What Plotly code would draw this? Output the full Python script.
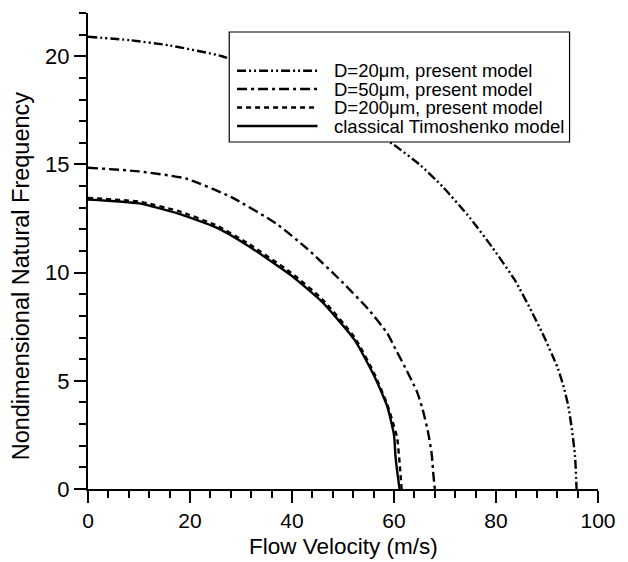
import plotly.graph_objects as go

# ---- data ----
u_d20 = [0, 8.3, 16, 26.3, 35, 45, 52, 60, 65, 69.6, 75, 79.2, 83.7, 87, 89.5, 91, 92.1, 93.3, 94.2, 94.9, 95.5, 95.8]
w_d20 = [20.9, 20.74, 20.5, 20.0, 19.2, 18.1, 17.1, 15.9, 15.0, 13.96, 12.5, 11.19, 9.65, 8.2, 7.0, 6.2, 5.6, 4.7, 3.8, 2.72, 1.5, 0]

u_d50 = [0, 10, 19.2, 28, 36.9, 43, 49.7, 55, 58.7, 60, 62, 64.5, 65.6, 66.7, 67.4, 67.7, 68]
w_d50 = [14.85, 14.68, 14.35, 13.5, 12.27, 11.1, 9.6, 8.3, 7.19, 6.6, 5.7, 4.5, 3.7, 2.6, 1.6, 0.72, 0]

u_d200 = [0, 10, 17.7, 25, 31.2, 39.8, 45.9, 52.3, 56.2, 58.7, 60.0, 60.6, 61.1, 61.5]
w_d200 = [13.45, 13.28, 12.85, 12.2, 11.38, 10.0, 8.78, 7.0, 5.3, 3.9, 2.9, 2.4, 1.2, 0]

u_cl = [0, 10, 17.7, 25, 31.2, 39.8, 45.9, 52.3, 56.2, 58.7, 60.0, 60.3, 60.8, 61.1]
w_cl = [13.38, 13.2, 12.73, 12.1, 11.27, 9.88, 8.65, 6.88, 5.19, 3.8, 2.5, 1.5, 0.5, 0]

names = ["D=20μm, present model", "D=50μm, present model",
         "D=200μm, present model", "classical Timoshenko model"]
dashes = ["9px,3px,2px,3px,2px,3px", "10px,4px,3px,4px", "5px,4px", "solid"]

x_ticks = [0, 20, 40, 60, 80, 100]
y_ticks = [0, 5, 10, 15, 20]

fig = go.Figure()
series = [(u_d20, w_d20), (u_d50, w_d50), (u_d200, w_d200), (u_cl, w_cl)]
for (u, w), nm, d in zip(series, names, dashes):
    fig.add_trace(go.Scatter(x=u, y=w, mode="lines", name=nm,
                             line=dict(color="black", width=2.4, dash=d,
                                       shape="spline", smoothing=0.5),
                             showlegend=False, hoverinfo="skip"))

FONT = "Liberation Sans, Arial, sans-serif"

# plot area in pixels: x 88..608, y 13..489
L, R, T, B = 88, 20, 13, 73
W, H = 628, 562
pw, ph = W - L - R, H - T - B

def px(xp):
    return (xp - L) / pw

def py(yp):
    return (H - B - yp) / ph

shapes = []
annotations = []
# custom legend box
shapes.append(dict(type="rect", xref="paper", yref="paper",
                   x0=px(232), x1=px(579), y0=py(142), y1=py(32),
                   line=dict(color="black", width=1.2), fillcolor="white",
                   layer="above"))
rows = [70.7, 89, 107.5, 126]
for r, nm, d in zip(rows, names, dashes):
    shapes.append(dict(type="line", xref="paper", yref="paper",
                       x0=px(240), x1=px(322), y0=py(r), y1=py(r),
                       line=dict(color="black", width=2.4, dash=d), layer="above"))
    annotations.append(dict(text=nm, xref="paper", yref="paper",
                            x=px(337), y=py(r), xanchor="left", yanchor="middle",
                            showarrow=False, font=dict(family=FONT, size=18.5, color="black")))

# axis titles
annotations.append(dict(text="Nondimensional Natural Frequency", xref="paper", yref="paper",
                        x=px(20), y=py(276), xanchor="center", yanchor="middle",
                        textangle=-90, showarrow=False,
                        font=dict(family=FONT, size=23.5, color="black")))
annotations.append(dict(text="Flow Velocity (m/s)", xref="paper", yref="paper",
                        x=px(349), y=py(546), xanchor="center", yanchor="middle",
                        showarrow=False,
                        font=dict(family=FONT, size=22.5, color="black")))

fig.update_layout(
    width=W, height=H,
    margin=dict(l=L, r=R, t=T, b=B),
    paper_bgcolor="white", plot_bgcolor="white",
    font=dict(family=FONT, size=22, color="black"),
    shapes=shapes, annotations=annotations,
    showlegend=False,
)
fig.update_xaxes(range=[0, 100], tickvals=x_ticks, ticks="outside", ticklen=12, tickwidth=2,
                 tickcolor="black", showline=True, linecolor="black", linewidth=2,
                 showgrid=False, zeroline=False,
                 minor=dict(dtick=4, tick0=0, ticks="outside", ticklen=7, tickwidth=1.5,
                            tickcolor="black", showgrid=False),
                 tickfont=dict(size=21))
fig.update_yaxes(range=[0, 22], tickvals=y_ticks, ticks="outside", ticklen=12, tickwidth=2,
                 tickcolor="black", showline=True, linecolor="black", linewidth=2,
                 showgrid=False, zeroline=False,
                 minor=dict(dtick=1, tick0=0, ticks="outside", ticklen=7, tickwidth=1.5,
                            tickcolor="black", showgrid=False),
                 tickfont=dict(size=22))

fig.write_html("out.html", config={"displayModeBar": False},
               post_script="document.body.style.margin='0';document.body.style.overflow='hidden';")
